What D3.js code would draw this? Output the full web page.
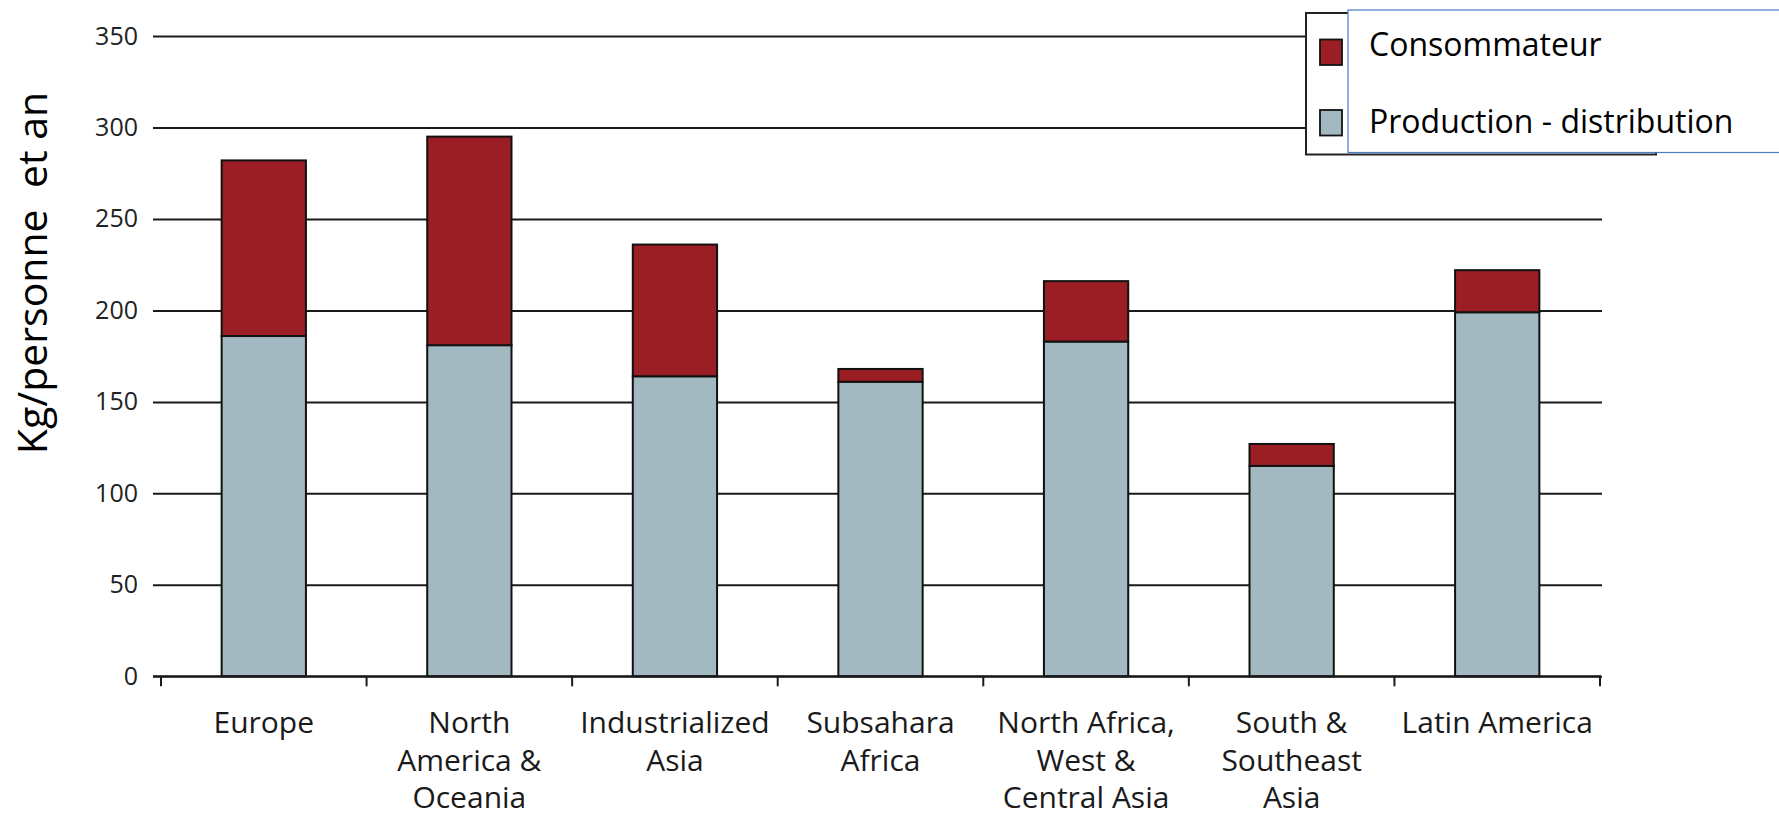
<!DOCTYPE html>
<html>
<head>
<meta charset="utf-8">
<script src="https://cdn.jsdelivr.net/npm/d3@7"></script>
<style>
  html, body { margin: 0; padding: 0; background: #fff; }
  svg { display: block; }
</style>
</head>
<body>
<svg id="chart" width="1779" height="818"></svg>
<script>
// ---- data ----
const categories = ["Europe", "North America & Oceania", "Industrialized Asia", "Subsahara Africa",
  "North Africa, West & Central Asia", "South & Southeast Asia", "Latin America"];
const categoryLabels = [
  ["Europe"],
  ["North", "America &", "Oceania"],
  ["Industrialized", "Asia"],
  ["Subsahara", "Africa"],
  ["North Africa,", "West &", "Central Asia"],
  ["South &", "Southeast", "Asia"],
  ["Latin America"]
];
const productionDistribution = [186, 181, 164, 161, 183, 115, 199];
const consommateur = [96, 114, 72, 7, 33, 12, 23];
const yTicks = [0, 50, 100, 150, 200, 250, 300, 350];
const seriesNames = ["Consommateur", "Production - distribution"];
const yTitle = "Kg/personne  et an";

// ---- layout ----
const svg = d3.select("#chart");
const colors = { cons: "#9b1e25", prod: "#a3b9c2" };

const x = d3.scaleBand().domain(categories).range([161, 1600]).paddingInner(0.59).paddingOuter(0.295);
const y = d3.scaleLinear().domain([0, 350]).range([676.3, 36]);

const gridLeft = 153, gridRight = 1602;

// gridlines + y labels via axis
const yAxis = d3.axisLeft(y).tickValues(yTicks).tickSize(-(gridRight - gridLeft)).tickPadding(15).tickFormat(d3.format("d"));
const gy = svg.append("g").attr("transform", `translate(${gridLeft},0)`).call(yAxis);
gy.select(".domain").remove();
gy.selectAll(".tick line").attr("stroke", "#1a1a1a").attr("stroke-width", 2);
gy.selectAll(".tick text").attr("font-family", "'Open Sans', sans-serif").attr("font-size", 25)
  .attr("fill", "#222").attr("dy", "0.32em");

// stacked data
const stackData = categories.map((c, i) => ({ cat: c, prod: productionDistribution[i], cons: consommateur[i] }));
const stack = d3.stack().keys(["prod", "cons"])(stackData);

const barG = svg.append("g");
stack.forEach(layer => {
  barG.selectAll(null).data(layer).enter().append("rect")
    .attr("x", d => x(d.data.cat))
    .attr("width", x.bandwidth())
    .attr("y", d => y(d[1]))
    .attr("height", d => y(d[0]) - y(d[1]))
    .attr("fill", layer.key === "prod" ? colors.prod : colors.cons)
    .attr("stroke", "#111")
    .attr("stroke-width", 2);
});

// x axis line and boundary ticks
const step = x.step();
const boundaries = categories.map(c => x(c) + x.bandwidth() / 2 - step / 2);
boundaries.push(boundaries[boundaries.length - 1] + step);
const xg = svg.append("g");
xg.append("line").attr("x1", gridLeft).attr("x2", boundaries[boundaries.length - 1] + 1)
  .attr("y1", y(0)).attr("y2", y(0)).attr("stroke", "#1a1a1a").attr("stroke-width", 2);
xg.selectAll(".bt").data(boundaries).enter().append("line")
  .attr("x1", d => d).attr("x2", d => d)
  .attr("y1", y(0)).attr("y2", y(0) + 10)
  .attr("stroke", "#1a1a1a").attr("stroke-width", 2);

// x labels
const lblG = xg.selectAll(".lbl").data(categories).enter().append("text")
  .attr("x", d => x(d) + x.bandwidth() / 2)
  .attr("y", y(0) + 57)
  .attr("text-anchor", "middle")
  .attr("font-family", "'Open Sans', sans-serif")
  .attr("font-size", 30)
  .attr("fill", "#1a1a1a");
lblG.each(function(d, i) {
  const t = d3.select(this);
  categoryLabels[i].forEach((line, j) => {
    t.append("tspan").attr("x", x(d) + x.bandwidth() / 2).attr("dy", j === 0 ? 0 : 37.5).text(line);
  });
});

// y title
svg.append("text")
  .attr("transform", "translate(47,273) rotate(-90)")
  .attr("text-anchor", "middle")
  .attr("font-family", "'Open Sans', sans-serif")
  .attr("font-size", 41)
  .attr("fill", "#000")
  .style("white-space", "pre")
  .text(yTitle);

// legend
const lg = svg.append("g");
lg.append("rect").attr("x", 1306).attr("y", 13).attr("width", 350).attr("height", 141.5)
  .attr("fill", "#fff").attr("stroke", "#222").attr("stroke-width", 2);
lg.append("rect").attr("x", 1348).attr("y", 10).attr("width", 440).attr("height", 142.5)
  .attr("fill", "#fff").attr("stroke", "#4a7bc8").attr("stroke-width", 1.2);
const legendColors = [colors.cons, colors.prod];
const legendY = [39.5, 110];
seriesNames.forEach((name, i) => {
  lg.append("rect").attr("x", 1320).attr("y", legendY[i]).attr("width", 22).attr("height", 25.5)
    .attr("fill", legendColors[i]).attr("stroke", "#111").attr("stroke-width", 1.8);
  lg.append("text").attr("x", 1369).attr("y", legendY[i] + 16 + (i === 0 ? 0 : 7))
    .attr("font-family", "'Open Sans', sans-serif").attr("font-size", 32).attr("fill", "#000")
    .text(name);
});
</script>
</body>
</html>
